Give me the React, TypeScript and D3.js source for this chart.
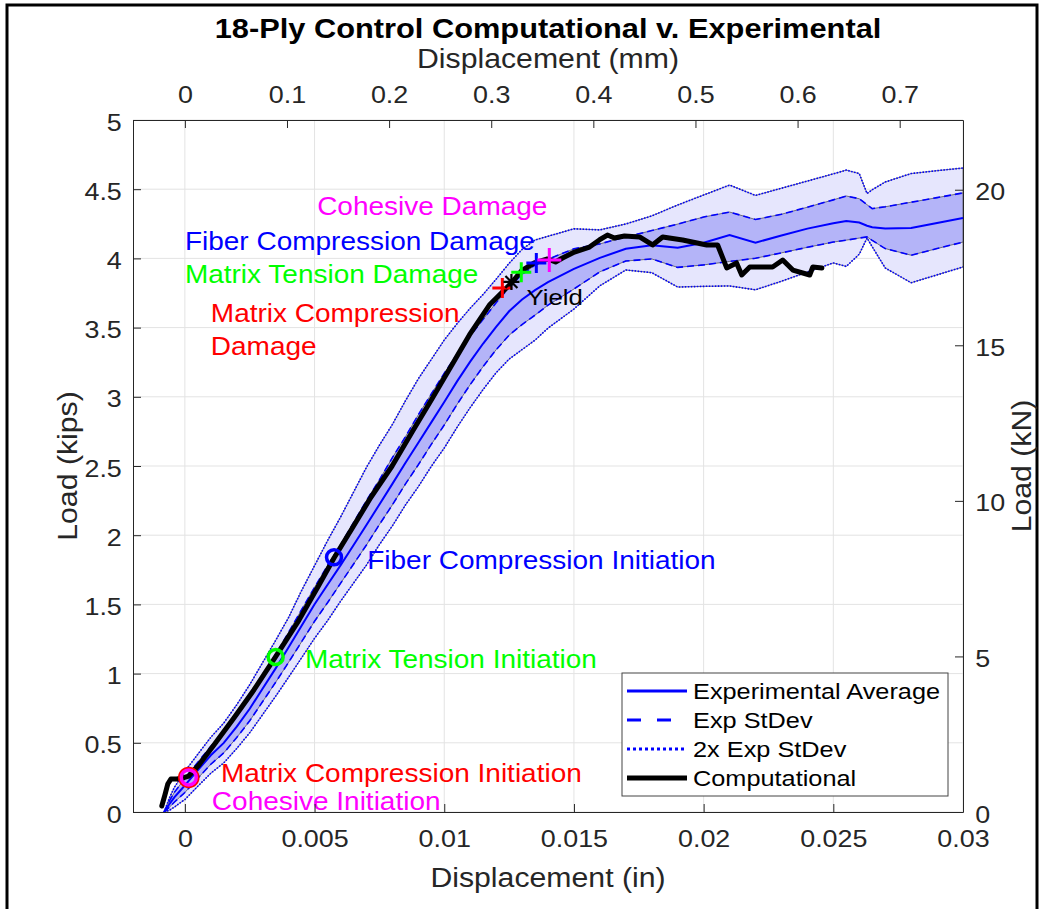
import React, { useEffect, useRef } from "react";
import * as d3 from "d3";

// experimental band, load in kips vs displacement in inches
const expDisp = [-0.0008, -0.0006, -0.0004, -0.0002, 0, 0.0005, 0.001, 0.0015, 0.002, 0.0025, 0.003, 0.0035, 0.004, 0.0045, 0.005, 0.0055, 0.006, 0.0065, 0.007, 0.0075, 0.008, 0.0085, 0.009, 0.0095, 0.01, 0.0105, 0.011, 0.0115, 0.012, 0.0125, 0.013, 0.0135, 0.014, 0.015, 0.016, 0.017, 0.018, 0.019, 0.02, 0.021, 0.022, 0.023, 0.024, 0.025, 0.0255, 0.026, 0.0263, 0.0265, 0.027, 0.028, 0.029, 0.03];
const expAvg = [0, 0.056, 0.108, 0.15, 0.192, 0.302, 0.41, 0.499, 0.617, 0.746, 0.892, 1.038, 1.19, 1.346, 1.501, 1.642, 1.782, 1.927, 2.074, 2.222, 2.371, 2.521, 2.668, 2.815, 2.962, 3.113, 3.254, 3.385, 3.506, 3.618, 3.703, 3.771, 3.828, 3.924, 4.004, 4.069, 4.095, 4.077, 4.113, 4.169, 4.114, 4.165, 4.215, 4.254, 4.27, 4.259, 4.236, 4.225, 4.216, 4.22, 4.256, 4.292];
const expSd1Hi = [0, 0.078, 0.144, 0.193, 0.243, 0.36, 0.475, 0.571, 0.696, 0.833, 0.986, 1.139, 1.298, 1.462, 1.624, 1.78, 1.93, 2.09, 2.25, 2.4, 2.56, 2.71, 2.87, 3.02, 3.17, 3.31, 3.44, 3.56, 3.68, 3.791, 3.884, 3.952, 3.994, 4.069, 4.105, 4.155, 4.201, 4.248, 4.299, 4.335, 4.281, 4.319, 4.37, 4.423, 4.451, 4.431, 4.388, 4.36, 4.373, 4.406, 4.439, 4.473];
const expSd1Lo = [0, 0.034, 0.072, 0.107, 0.141, 0.244, 0.345, 0.427, 0.538, 0.659, 0.798, 0.937, 1.082, 1.23, 1.378, 1.512, 1.652, 1.79, 1.929, 2.077, 2.219, 2.369, 2.509, 2.656, 2.796, 2.947, 3.088, 3.219, 3.34, 3.445, 3.522, 3.59, 3.662, 3.779, 3.903, 3.981, 3.996, 3.935, 3.953, 3.978, 4.001, 4.04, 4.08, 4.118, 4.132, 4.147, 4.155, 4.13, 4.071, 4.023, 4.071, 4.118];
const expSd2Hi = [0, 0.1, 0.18, 0.236, 0.294, 0.418, 0.54, 0.643, 0.775, 0.92, 1.08, 1.24, 1.406, 1.6, 1.78, 1.96, 2.13, 2.31, 2.49, 2.65, 2.8, 2.97, 3.13, 3.27, 3.41, 3.53, 3.64, 3.74, 3.85, 3.964, 4.065, 4.133, 4.16, 4.214, 4.206, 4.249, 4.307, 4.386, 4.458, 4.53, 4.455, 4.507, 4.559, 4.611, 4.638, 4.613, 4.469, 4.496, 4.552, 4.613, 4.634, 4.653];
const expSd2Lo = [0, 0.012, 0.036, 0.064, 0.09, 0.186, 0.28, 0.355, 0.459, 0.572, 0.704, 0.836, 0.974, 1.114, 1.255, 1.382, 1.522, 1.653, 1.784, 1.932, 2.067, 2.217, 2.35, 2.497, 2.63, 2.781, 2.922, 3.053, 3.174, 3.272, 3.341, 3.409, 3.496, 3.634, 3.802, 3.916, 3.897, 3.793, 3.798, 3.801, 3.773, 3.835, 3.902, 3.967, 3.942, 4.03, 4.147, 4.084, 3.931, 3.824, 3.881, 3.938];

// computational result
const compDisp = [-0.00089, -0.00077, -0.00066, -0.00054, -0.00031, -0.00008, 0.00015, 0.00054, 0.00112, 0.00189, 0.00266, 0.00347, 0.0044, 0.00517, 0.00575, 0.00641, 0.00718, 0.00799, 0.00876, 0.0095, 0.01027, 0.01097, 0.01174, 0.01232, 0.01259, 0.01297, 0.01347, 0.01398, 0.01429, 0.01456, 0.01502, 0.0156, 0.01598, 0.01629, 0.01656, 0.01695, 0.01753, 0.01803, 0.01842, 0.01919, 0.02012, 0.02054, 0.02089, 0.02127, 0.02147, 0.02178, 0.02266, 0.02305, 0.02344, 0.02409, 0.02421, 0.02456];
const compLoad = [0.043, 0.123, 0.202, 0.238, 0.238, 0.246, 0.26, 0.34, 0.484, 0.679, 0.882, 1.113, 1.387, 1.64, 1.835, 2.038, 2.276, 2.5, 2.746, 2.977, 3.223, 3.447, 3.663, 3.772, 3.822, 3.909, 3.967, 3.996, 3.974, 4.003, 4.046, 4.082, 4.133, 4.169, 4.147, 4.162, 4.155, 4.097, 4.155, 4.133, 4.097, 4.097, 3.931, 3.967, 3.88, 3.938, 3.938, 3.988, 3.916, 3.88, 3.938, 3.931];

// damage markers
const initNames = ["Matrix Compression Initiation", "Cohesive Initiation", "Matrix Tension Initiation", "Fiber Compression Initiation"];
const initDisp = [0.00015, 0.00015, 0.0035, 0.00575];
const initLoad = [0.25, 0.25, 1.12, 1.84];
const initColors = ["#ff0000", "#ff00ff", "#00ff00", "#0000ff"];
const damageNames = ["Matrix Compression Damage", "Matrix Tension Damage", "Fiber Compression Damage", "Cohesive Damage"];
const damageDisp = [0.01224, 0.01297, 0.01355, 0.01405];
const damageLoad = [3.786, 3.9, 3.967, 3.988];
const damageColors = ["#ff0000", "#00ff00", "#0000ff", "#ff00ff"];
const yieldPoint = [0.01259, 3.83];

// text annotations (anchor in data units)
const notes = [
  { text: "Cohesive Damage", d: 0.0051, l: 4.314, color: "#ff00ff" },
  { text: "Fiber Compression Damage", d: 0, l: 4.061, color: "#0000ff" },
  { text: "Matrix Tension Damage", d: 0, l: 3.822, color: "#00ff00" },
  { text: "Matrix Compression", d: 0.001, l: 3.54, color: "#ff0000" },
  { text: "Damage", d: 0.001, l: 3.3, color: "#ff0000" },
  { text: "Fiber Compression Initiation", d: 0.00703, l: 1.756, color: "#0000ff" },
  { text: "Matrix Tension Initiation", d: 0.00463, l: 1.04, color: "#00ff00" },
  { text: "Matrix Compression Initiation", d: 0.00139, l: 0.217, color: "#ff0000" },
  { text: "Cohesive Initiation", d: 0.00104, l: 0.0145, color: "#ff00ff" },
];

const xTicks = [0, 0.005, 0.01, 0.015, 0.02, 0.025, 0.03];
const yTicks = [0, 0.5, 1, 1.5, 2, 2.5, 3, 3.5, 4, 4.5, 5];
const mmTicks = [0, 0.1, 0.2, 0.3, 0.4, 0.5, 0.6, 0.7];
const knTicks = [0, 5, 10, 15, 20];

const legendNames = ["Experimental Average", "Exp StDev", "2x Exp StDev", "Computational"];

const W = 1052, H = 909;
const M = { left: 133, right: 963, top: 120, bottom: 812 };
const SX = 1.12; // text in the source is a little wide
const FONT = "'Liberation Sans', Arial, Helvetica, sans-serif";
const AX = "#262626";
const KN = 4.44822;

const App: React.FC = () => {
  const svgRef = useRef<SVGSVGElement | null>(null);

  useEffect(() => {
    const svg = d3.select(svgRef.current);
    svg.selectAll("*").remove();
    svg.attr("font-family", FONT);

    const x = d3.scaleLinear().domain([-0.002, 0.03]).range([M.left, M.right]);
    const y = d3.scaleLinear().domain([0, 5]).range([M.bottom, M.top]);
    const xMm = d3.scaleLinear().domain([-0.002 * 25.4, 0.03 * 25.4]).range([M.left, M.right]);
    const yKn = d3.scaleLinear().domain([0, 5 * KN]).range([M.bottom, M.top]);

    const txt = (g: any, px: number, py: number, s: string, size: number, color: string, anchor = "start", rot = 0, weight = "normal") =>
      g.append("text")
        .attr("transform", `translate(${px},${py}) rotate(${rot}) scale(${SX},1)`)
        .attr("font-size", size).attr("fill", color).attr("text-anchor", anchor)
        .attr("font-weight", weight).text(s);

    svg.append("rect").attr("width", W).attr("height", H).attr("fill", "#fff");
    svg.append("rect").attr("x", 7).attr("y", 5).attr("width", 1030).attr("height", 1000)
      .attr("fill", "none").attr("stroke", "#000").attr("stroke-width", 3);

    // grid
    const grid = svg.append("g").attr("stroke", "#e3e3e3").attr("stroke-width", 1);
    xTicks.forEach((t) => grid.append("line").attr("x1", x(t)).attr("x2", x(t)).attr("y1", M.top).attr("y2", M.bottom));
    yTicks.forEach((t) => grid.append("line").attr("x1", M.left).attr("x2", M.right).attr("y1", y(t)).attr("y2", y(t)));

    svg.append("defs").append("clipPath").attr("id", "plotClip").append("rect")
      .attr("x", M.left).attr("y", M.top).attr("width", M.right - M.left).attr("height", M.bottom - M.top);
    const plot = svg.append("g").attr("clip-path", "url(#plotClip)");

    const band = (lo: number[]) => d3.area<number>()
      .x((_, i) => x(expDisp[i])).y0((_, i) => y(lo[i])).y1((d) => y(d));
    const line = d3.line<number>().x((_, i) => x(expDisp[i])).y((d) => y(d));

    plot.append("path").datum(expSd2Hi).attr("d", band(expSd2Lo))
      .attr("fill", "#e6e6fd").attr("stroke", "#444").attr("stroke-width", 0.7);
    plot.append("path").datum(expSd1Hi).attr("d", band(expSd1Lo))
      .attr("fill", "#b4b4f8").attr("stroke", "#444").attr("stroke-width", 0.7);

    [expSd2Hi, expSd2Lo].forEach((s) => plot.append("path").datum(s).attr("d", line)
      .attr("fill", "none").attr("stroke", "#0000ff").attr("stroke-width", 1.6).attr("stroke-dasharray", "1.5,1.5"));
    [expSd1Hi, expSd1Lo].forEach((s) => plot.append("path").datum(s).attr("d", line)
      .attr("fill", "none").attr("stroke", "#0000ff").attr("stroke-width", 1.6).attr("stroke-dasharray", "7,4"));
    plot.append("path").datum(expAvg).attr("d", line)
      .attr("fill", "none").attr("stroke", "#0000ff").attr("stroke-width", 2);

    const compLine = d3.line<number>().x((_, i) => x(compDisp[i])).y((d) => y(d));
    plot.append("path").datum(compLoad).attr("d", compLine)
      .attr("fill", "none").attr("stroke", "#000").attr("stroke-width", 5)
      .attr("stroke-linejoin", "round").attr("stroke-linecap", "round");

    // initiation circles
    initNames.forEach((_, i) => {
      plot.append("circle").attr("cx", x(initDisp[i])).attr("cy", y(initLoad[i]))
        .attr("r", i === 0 ? 9 : 7.5).attr("fill", "none")
        .attr("stroke", initColors[i]).attr("stroke-width", 3.5);
    });
    // damage pluses
    damageNames.forEach((_, i) => {
      const s = i === 3 ? 12 : 10;
      plot.append("path").attr("transform", `translate(${x(damageDisp[i])},${y(damageLoad[i])})`)
        .attr("d", `M-${s},0H${s}M0,-${s}V${s}`).attr("stroke", damageColors[i]).attr("stroke-width", 3);
    });
    plot.append("path").attr("transform", `translate(${x(yieldPoint[0])},${y(yieldPoint[1])})`)
      .attr("d", "M-8,0H8M0,-8V8M-6,-6L6,6M-6,6L6,-6").attr("stroke", "#000").attr("stroke-width", 2.2);

    // annotations
    notes.forEach((n) => txt(svg, x(n.d), y(n.l), n.text, 25, n.color));
    txt(svg, x(0.01317), y(3.663), "Yield", 23, "#000");

    // axes
    const styleAxis = (g: any, dy: string | null) => {
      g.attr("font-size", 24).attr("font-family", FONT);
      g.selectAll("line").attr("stroke", AX);
      g.select(".domain").attr("stroke", AX);
      g.selectAll("text").attr("fill", AX).attr("transform", `scale(${SX},1)`);
      if (dy) g.selectAll("text").attr("dy", dy);
    };
    const fmt = (d: any) => String(d);
    styleAxis(svg.append("g").attr("transform", `translate(0,${M.bottom})`)
      .call(d3.axisBottom(x).tickValues(xTicks).tickFormat(fmt).tickSizeInner(-8).tickSizeOuter(0).tickPadding(18)), null);
    styleAxis(svg.append("g").attr("transform", `translate(0,${M.top})`)
      .call(d3.axisTop(xMm).tickValues(mmTicks).tickFormat(fmt).tickSizeInner(-8).tickSizeOuter(0).tickPadding(17)), null);
    styleAxis(svg.append("g").attr("transform", `translate(${M.left},0)`)
      .call(d3.axisLeft(y).tickValues(yTicks).tickFormat(fmt).tickSizeInner(-8).tickSizeOuter(0).tickPadding(10)), "0.42em");
    styleAxis(svg.append("g").attr("transform", `translate(${M.right},0)`)
      .call(d3.axisRight(yKn).tickValues(knTicks).tickFormat(fmt).tickSizeInner(-8).tickSizeOuter(0).tickPadding(11)), "0.42em");

    const cx = (M.left + M.right) / 2;
    txt(svg, cx, 38, "18-Ply Control Computational v. Experimental", 27.5, "#000", "middle", 0, "bold");
    txt(svg, cx, 68, "Displacement (mm)", 27, AX, "middle");
    txt(svg, cx, 887, "Displacement (in)", 27, AX, "middle");
    txt(svg, 77, (M.top + M.bottom) / 2, "Load (kips)", 27, AX, "middle", -90);
    txt(svg, 1031, (M.top + M.bottom) / 2, "Load (kN)", 27, AX, "middle", -90);

    // legend
    const lg = svg.append("g");
    lg.append("rect").attr("x", 622).attr("y", 673).attr("width", 326).attr("height", 123)
      .attr("fill", "#fff").attr("stroke", "#444").attr("stroke-width", 1);
    const lgStyle = [
      { c: "#0000ff", w: 3, dash: null },
      { c: "#0000ff", w: 3, dash: "14,16" },
      { c: "#0000ff", w: 3, dash: "3,3" },
      { c: "#000", w: 5, dash: null },
    ];
    legendNames.forEach((name, i) => {
      const ly = 691 + i * 29;
      const ln = lg.append("line").attr("x1", 627).attr("x2", 687).attr("y1", ly).attr("y2", ly)
        .attr("stroke", lgStyle[i].c).attr("stroke-width", lgStyle[i].w);
      if (lgStyle[i].dash) ln.attr("stroke-dasharray", lgStyle[i].dash);
      txt(lg, 693, ly + 8, name, 22.6, "#000");
    });
  }, []);

  return (
    <div>
      <svg ref={svgRef} width={W} height={H} style={{ position: "absolute", left: 0, top: 0 }}></svg>
    </div>
  );
};

export default App;
